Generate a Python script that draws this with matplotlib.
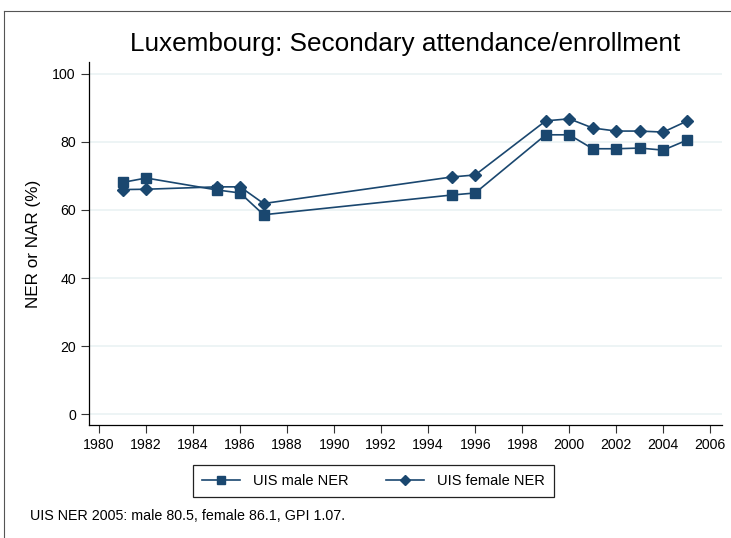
import matplotlib.pyplot as plt
from matplotlib.lines import Line2D

plt.rcParams['font.family'] = ['Liberation Sans', 'DejaVu Sans']

# data
years = [1981, 1982, 1985, 1986, 1987, 1995, 1996, 1999, 2000, 2001, 2002, 2003, 2004, 2005]
male_ner = [68.1, 69.4, 65.9, 65.0, 58.6, 64.4, 65.0, 82.1, 82.1, 78.0, 78.0, 78.2, 77.6, 80.5]
female_ner = [66.0, 66.1, 66.8, 66.8, 61.9, 69.7, 70.3, 86.2, 86.8, 84.1, 83.2, 83.2, 82.9, 86.1]
xticks = list(range(1980, 2007, 2))
yticks = [0, 20, 40, 60, 80, 100]

navy = '#1a476f'
grid_col = '#eaf2f3'

fig = plt.figure(figsize=(7.31, 5.38), dpi=100)
ax = fig.add_axes([89 / 731, 1 - 425 / 538, (722 - 89) / 731, (425 - 62) / 538])

ax.plot(years, male_ner, color=navy, lw=1.2, marker='s', ms=6.5, label='UIS male NER')
ax.plot(years, female_ner, color=navy, lw=1.2, marker='D', ms=6.5, label='UIS female NER')

ax.set_xlim(1979.57, 2006.5)
ax.set_ylim(-3.2, 103.5)
ax.set_xticks(xticks)
ax.set_yticks(yticks)
ax.tick_params(labelsize=10.2, length=5.5, width=0.8, color='#333333', pad=4)
ax.yaxis.grid(True, color=grid_col, lw=1.2)
ax.set_axisbelow(True)
for s in ['top', 'right']:
    ax.spines[s].set_visible(False)
for s in ['left', 'bottom']:
    ax.spines[s].set_linewidth(0.9)

ax.set_ylabel('NER or NAR (%)', fontsize=12.3, labelpad=8)
fig.text(405.5 / 731, 1 - 44 / 538, 'Luxembourg: Secondary attendance/enrollment',
         fontsize=18.8, ha='center', va='center')

leg = fig.legend(loc='center', bbox_to_anchor=(373.5 / 731, 1 - 481 / 538), ncol=2,
                 fontsize=10.5, fancybox=False, edgecolor='#222222', framealpha=1,
                 handlelength=2.6, columnspacing=2.6, borderpad=0.6, markerscale=0.85,
                 handletextpad=0.9)
leg.get_frame().set_linewidth(0.9)

fig.text(30 / 731, 1 - 516 / 538, 'UIS NER 2005: male 80.5, female 86.1, GPI 1.07.',
         fontsize=10.3, ha='left', va='center')

# partial outer frame (top and left edges)
fig.add_artist(Line2D([4 / 731, 4 / 731], [0, 1 - 11 / 538], color='#555555', lw=0.8))
fig.add_artist(Line2D([4 / 731, 1], [1 - 11 / 538, 1 - 11 / 538], color='#555555', lw=0.8))

fig.savefig('out.png', dpi=100)
